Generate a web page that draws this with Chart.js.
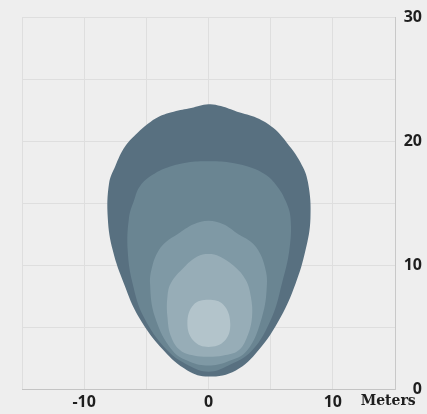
<!DOCTYPE html>
<html><head><meta charset="utf-8">
<script src="https://cdn.jsdelivr.net/npm/chart.js@4"></script>
<style>html,body{margin:0;padding:0;background:#eeeeee;overflow:hidden}#c{display:block}</style>
</head><body><canvas id="c" width="427" height="414"></canvas>
<script>
// Contours of the illuminance pattern (metres), outermost to innermost
const outerX = [8.2, 7.8, 7.0, 5.8, 4.0, 2.2, 0, -1.7, -3.6, -5.6, -6.8, -7.7, -8.1, -8.0, -7.5, -6.7, -5.7, -4.9, -4.0, -2.8, -1.4, 0, 1.0, 2.3, 3.9, 5.2, 6.3, 7.4, 8.0, 8.2];
const outerY = [13.8, 11.2, 8.5, 5.8, 3.1, 1.5, 1.0, 1.5, 3.1, 5.8, 8.5, 11.2, 13.8, 16.6, 18.0, 19.6, 20.7, 21.4, 22.0, 22.4, 22.7, 23.0, 22.85, 22.4, 21.9, 21.1, 19.9, 18.3, 16.7, 13.8];
const ring2X = [6.6, 6.5, 5.9, 5.1, 3.5, 1.6, 0, -1.6, -3.3, -5.2, -6.1, -6.5, -6.4, -6.0, -5.5, -4.5, -3.3, -1.7, 0, 1.7, 3.4, 4.6, 5.5, 6.2, 6.6];
const ring2Y = [13.8, 11.2, 8.5, 5.8, 3.1, 1.9, 1.4, 1.9, 3.1, 5.8, 8.5, 11.2, 13.8, 15.2, 16.4, 17.3, 17.9, 18.3, 18.4, 18.3, 17.9, 17.3, 16.4, 15.2, 13.8];
const ring3X = [4.7, 4.3, 3.1, 1.5, 0, -1.5, -2.9, -4.3, -4.7, -4.5, -4.0, -3.4, -2.5, -1.2, 0, 1.2, 2.4, 3.4, 4.0, 4.5, 4.7];
const ring3Y = [8.5, 5.8, 3.1, 2.2, 1.9, 2.2, 3.1, 5.8, 8.5, 10.0, 11.2, 11.9, 12.5, 13.3, 13.6, 13.3, 12.5, 11.9, 11.2, 10.0, 8.5];
const ring4X = [3.5, 3.1, 2.4, 1.2, 0, -1.2, -2.25, -3.0, -3.3, -3.3, -3.0, -2.0, -0.9, 0, 0.9, 2.2, 3.0, 3.4, 3.5];
const ring4Y = [5.8, 4.2, 3.1, 2.7, 2.6, 2.7, 3.1, 4.2, 5.8, 7.5, 8.6, 9.8, 10.7, 10.9, 10.7, 9.8, 8.8, 7.5, 5.8];
const coreX = [1.75, 1.3, 0, -1.2, -1.7, -1.2, 0, 1.2, 1.75];
const coreY = [5.3, 3.9, 3.4, 3.9, 5.3, 6.8, 7.2, 6.8, 5.3];

const contourColors = ['#587080', '#6a8592', '#7f99a5', '#97adb7', '#b3c4cb'];

// Axis ticks
const xTickValues = [-15, -10, -5, 0, 5, 10];
const xLabelledTicks = [-10, 0, 10];
const unitLabel = 'Meters';
const unitLabelAt = 14.45;
const yLabelledTicks = [0, 10, 20, 30];

const contours = [[outerX, outerY], [ring2X, ring2Y], [ring3X, ring3Y], [ring4X, ring4Y], [coreX, coreY]];
// closed loops: wrap one point on each side so the spline is smooth where it closes
const datasets = contours.map(([xs, ys], i) => {
  const pts = xs.map((x, k) => ({x: x, y: ys[k]}));
  const n = pts.length;
  return {
    data: [pts[n - 2]].concat(pts, [pts[1]]),
    showLine: true,
    fill: 'shape',
    backgroundColor: contourColors[i],
    borderColor: contourColors[i],
    borderWidth: 0,
    pointRadius: 0,
    tension: 0.4,
    order: contours.length - i
  };
});

const numFont = {family: 'Noto Sans', size: 16, weight: 'bold'};
const unitFont = {family: 'DejaVu Serif', size: 14, weight: 'bold'};

new Chart(document.getElementById('c'), {
  type: 'scatter',
  data: {datasets},
  options: {
    responsive: false,
    animation: false,
    devicePixelRatio: 1,
    layout: {padding: {left: 22, top: 16, right: 5, bottom: 0}},
    plugins: {legend: {display: false}, tooltip: {enabled: false}},
    scales: {
      x: {
        type: 'linear', min: -15, max: 15,
        afterBuildTicks: s => { s.ticks = xTickValues.concat([unitLabelAt]).map(v => ({value: v})); },
        afterFit: s => { s.height = 25; },
        ticks: {
          autoSkip: false, maxRotation: 0, padding: 4, color: '#1e1e1e',
          callback: v => v === unitLabelAt ? unitLabel : (xLabelledTicks.includes(v) ? String(v) : ''),
          font: ctx => (ctx.tick && ctx.tick.value === unitLabelAt) ? unitFont : numFont
        },
        grid: {
          drawTicks: false,
          color: ctx => (ctx.tick && ctx.tick.value === unitLabelAt) ? 'rgba(0,0,0,0)' : '#dedede'
        },
        border: {color: '#c4c4c4', width: 1}
      },
      y: {
        type: 'linear', position: 'right', min: 0, max: 30,
        afterFit: s => { s.width = 27; },
        ticks: {
          stepSize: 5, padding: 8, crossAlign: 'far', color: '#1e1e1e', font: numFont,
          callback: v => yLabelledTicks.includes(v) ? String(v) : ''
        },
        grid: {drawTicks: false, color: '#dedede'},
        border: {color: '#c8c8c8', width: 1}
      }
    }
  }
});
</script></body></html>
